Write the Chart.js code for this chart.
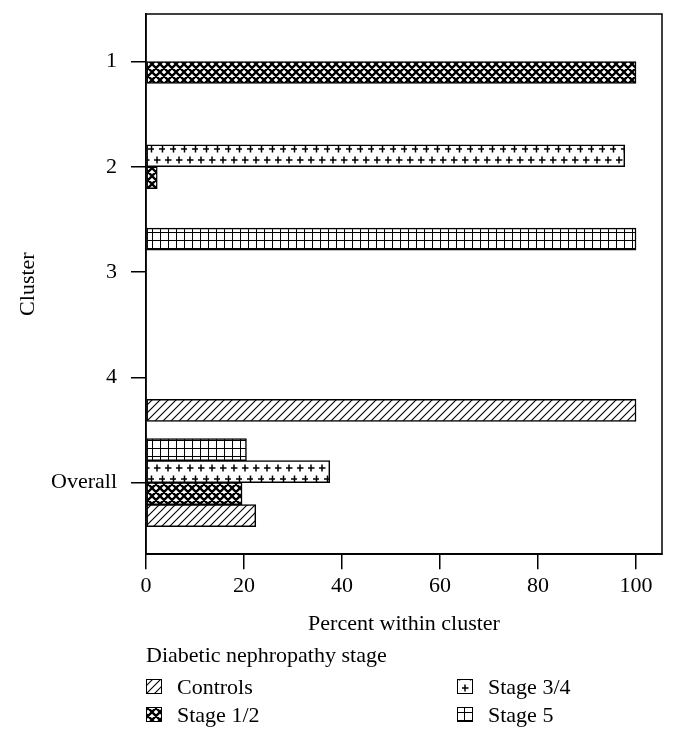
<!DOCTYPE html>
<html>
<head>
<meta charset="utf-8">
<script src="https://cdn.jsdelivr.net/npm/chart.js@4.4.0/dist/chart.umd.min.js"></script>
<style>
html, body { margin: 0; padding: 0; background: #fff; }
</style>
</head>
<body>
<canvas id="myChart" width="676" height="740"></canvas>
<script>
var clusters = ['1', '2', '3', '4', 'Overall'];
var stages = ['Controls', 'Stage 1/2', 'Stage 3/4', 'Stage 5'];
var controls = [0, 0, 0, 100, 22.4];
var stage12 = [100, 2.3, 0, 0, 19.6];
var stage34 = [0, 97.7, 0, 0, 37.5];
var stage5 = [0, 0, 100, 0, 20.5];
var xTicks = [0, 20, 40, 60, 80, 100];

var FONT = '"Liberation Serif", "Times New Roman", serif';
var ctx = document.getElementById('myChart').getContext('2d');

// hatch fills
function makePattern(w, h, draw) {
	var c = document.createElement('canvas');
	c.width = w;
	c.height = h;
	var g = c.getContext('2d');
	g.fillStyle = '#fff';
	g.fillRect(0, 0, w, h);
	g.strokeStyle = '#000';
	draw(g);
	return ctx.createPattern(c, 'repeat');
}
var hatchDiag = makePattern(8, 8, function(g) {
	g.lineWidth = 1.1;
	g.beginPath();
	g.moveTo(0, 8); g.lineTo(8, 0);
	g.moveTo(-2, 2); g.lineTo(2, -2);
	g.moveTo(6, 10); g.lineTo(10, 6);
	g.stroke();
});
var hatchCross = makePattern(8, 8, function(g) {
	g.lineWidth = 2.3;
	g.beginPath();
	g.moveTo(0, 8); g.lineTo(8, 0);
	g.moveTo(-2, 2); g.lineTo(2, -2);
	g.moveTo(6, 10); g.lineTo(10, 6);
	g.moveTo(0, 0); g.lineTo(8, 8);
	g.moveTo(-2, 6); g.lineTo(2, 10);
	g.moveTo(6, -2); g.lineTo(10, 2);
	g.stroke();
});
var hatchPlus = makePattern(11, 22, function(g) {
	g.lineWidth = 1.5;
	[[3, 6], [8.5, 17]].forEach(function(p) {
		g.beginPath();
		g.moveTo(p[0] - 3.5, p[1]); g.lineTo(p[0] + 3.5, p[1]);
		g.moveTo(p[0], p[1] - 3.5); g.lineTo(p[0], p[1] + 3.5);
		g.stroke();
	});
});
var hatchGrid = makePattern(8, 8, function(g) {
	g.lineWidth = 1;
	g.beginPath();
	g.moveTo(0.5, 0); g.lineTo(0.5, 8);
	g.moveTo(0, 0.5); g.lineTo(8, 0.5);
	g.stroke();
});

var fills = {
	'Controls': hatchDiag,
	'Stage 1/2': hatchCross,
	'Stage 3/4': hatchPlus,
	'Stage 5': hatchGrid
};
var values = {
	'Controls': controls,
	'Stage 1/2': stage12,
	'Stage 3/4': stage34,
	'Stage 5': stage5
};

// top bar in each group is Stage 5, bottom is Controls
var datasets = stages.slice().reverse().map(function(name) {
	return {
		label: name,
		data: values[name].map(function(v, i) { return { x: v, y: i }; }),
		backgroundColor: fills[name],
		borderColor: '#000',
		borderWidth: 1.5,
		borderSkipped: false,
		barThickness: 22
	};
});

var framePlugin = {
	id: 'frame',
	afterDatasetsDraw: function(chart) {
		var a = chart.chartArea;
		var c = chart.ctx;
		c.save();
		c.strokeStyle = '#000';
		c.lineWidth = 1.5;
		c.strokeRect(a.left, a.top, a.right - a.left, a.bottom - a.top);
		c.restore();
	}
};

var legendPlugin = {
	id: 'stageLegend',
	afterDraw: function(chart) {
		var c = chart.ctx;
		c.save();
		c.font = '22px ' + FONT;
		c.fillStyle = '#000';
		c.textBaseline = 'alphabetic';
		c.fillText('Diabetic nephropathy stage', 146, 662);
		var spots = [[146, 694], [146, 722], [457, 694], [457, 722]];
		stages.forEach(function(name, i) {
			var x = spots[i][0], y = spots[i][1];
			c.fillStyle = fills[name];
			c.fillRect(x, y - 15, 16, 15);
			c.strokeStyle = '#000';
			c.lineWidth = 1;
			c.strokeRect(x + 0.5, y - 14.5, 15, 14);
			c.fillStyle = '#000';
			c.fillText(name, x + 31, y);
		});
		c.restore();
	}
};

var tickFont = { family: FONT, size: 22 };

new Chart(ctx, {
	type: 'bar',
	data: { datasets: datasets },
	options: {
		indexAxis: 'y',
		responsive: false,
		animation: false,
		layout: { padding: { left: 15, top: 14, right: 14, bottom: 103 } },
		plugins: {
			legend: { display: false },
			tooltip: { enabled: false }
		},
		scales: {
			x: {
				type: 'linear',
				min: 0,
				max: 105.3,
				afterBuildTicks: function(s) {
					s.ticks = xTicks.map(function(v) { return { value: v }; });
				},
				grid: { display: true, drawOnChartArea: false, drawTicks: true, tickLength: 15, color: '#000', lineWidth: 1.5 },
				border: { display: true, color: '#000', width: 1.5 },
				ticks: { color: '#000', font: tickFont, padding: 4, maxRotation: 0 },
				title: { display: true, text: 'Percent within cluster', color: '#000', font: tickFont, padding: { top: 7, bottom: 0 } }
			},
			y: {
				type: 'linear',
				reverse: true,
				offset: false,
				min: -0.451,
				max: 4.679,
				afterBuildTicks: function(s) {
					s.ticks = clusters.map(function(c, i) { return { value: i }; });
				},
				afterFit: function(s) {
					s.width = 131;
					s.paddingTop = 0;
					s.paddingBottom = 0;
				},
				grid: { display: true, offset: false, drawOnChartArea: false, drawTicks: true, tickLength: 15, color: '#000', lineWidth: 1.5 },
				border: { display: true, color: '#000', width: 1.5 },
				ticks: {
					color: '#000',
					font: tickFont,
					padding: 14,
					callback: function(v) { return clusters[v]; }
				},
				title: { display: true, text: 'Cluster', color: '#000', font: tickFont, padding: { top: 0, bottom: 0 } }
			}
		}
	},
	plugins: [framePlugin, legendPlugin]
});
</script>
</body>
</html>
